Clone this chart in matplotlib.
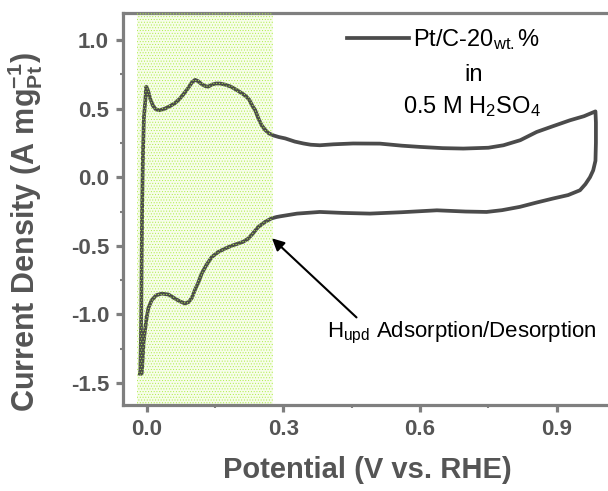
import numpy as np
import matplotlib
matplotlib.use("Agg")
import matplotlib.pyplot as plt
from matplotlib.ticker import MultipleLocator, FuncFormatter

plt.rcParams['font.family'] = ['Liberation Sans', 'DejaVu Sans']
plt.rcParams['mathtext.fontset'] = 'custom'
plt.rcParams['mathtext.rm'] = 'Liberation Sans'
plt.rcParams['mathtext.it'] = 'Liberation Sans'
plt.rcParams['mathtext.bf'] = 'Liberation Sans:bold'
plt.rcParams['hatch.linewidth'] = 0.4

# CV loop: anodic sweep from the H2 evolution edge up to ~1 V
anodic_E = [-0.014, -0.013, -0.012, -0.011, -0.010, -0.008, -0.006, -0.003,
            -0.001, 0.003, 0.008, 0.014, 0.020, 0.028, 0.040, 0.052, 0.062,
            0.072, 0.082, 0.091, 0.099, 0.106, 0.113, 0.120, 0.128, 0.135,
            0.143, 0.152, 0.161, 0.172, 0.185, 0.198, 0.210, 0.218, 0.225,
            0.232, 0.238, 0.245, 0.252, 0.260, 0.268, 0.278, 0.290, 0.304,
            0.325, 0.344, 0.360, 0.380, 0.410, 0.453, 0.512, 0.560, 0.600,
            0.650, 0.695, 0.750, 0.783, 0.820, 0.856, 0.890, 0.929, 0.960,
            0.985]
anodic_j = [-1.43, -1.25, -1.00, -0.60, -0.20, 0.20, 0.44, 0.56,
            0.66, 0.63, 0.57, 0.52, 0.495, 0.488, 0.50, 0.52, 0.54,
            0.57, 0.61, 0.65, 0.69, 0.71, 0.70, 0.68, 0.665, 0.66,
            0.675, 0.683, 0.683, 0.675, 0.66, 0.635, 0.61, 0.59, 0.565,
            0.52, 0.49, 0.43, 0.38, 0.345, 0.32, 0.305, 0.293, 0.283,
            0.26, 0.246, 0.237, 0.233, 0.24, 0.246, 0.245, 0.23, 0.221,
            0.212, 0.209, 0.215, 0.233, 0.27, 0.33, 0.37, 0.415, 0.445,
            0.48]

# cathodic return sweep
cathodic_E = [0.986, 0.986, 0.985, 0.980, 0.973, 0.963, 0.951, 0.925, 0.892,
              0.855, 0.819, 0.780, 0.746, 0.700, 0.637, 0.560, 0.490, 0.430,
              0.380, 0.330, 0.293, 0.285, 0.274, 0.260, 0.245, 0.233, 0.223,
              0.212, 0.201, 0.186, 0.172, 0.157, 0.143, 0.131, 0.121, 0.113,
              0.106, 0.099, 0.092, 0.084, 0.073, 0.062, 0.048, 0.033, 0.021,
              0.011, 0.004, 0.000, -0.004, -0.007, -0.009, -0.011, -0.014]
cathodic_j = [0.40, 0.25, 0.12, 0.05, 0.00, -0.05, -0.095, -0.13, -0.155,
              -0.185, -0.216, -0.24, -0.253, -0.25, -0.241, -0.255, -0.265, -0.26,
              -0.253, -0.265, -0.285, -0.29, -0.30, -0.325, -0.362, -0.41, -0.447,
              -0.47, -0.483, -0.50, -0.520, -0.545, -0.581, -0.64, -0.70, -0.77,
              -0.82, -0.88, -0.91, -0.92, -0.905, -0.884, -0.855, -0.848, -0.86,
              -0.896, -0.95, -1.02, -1.12, -1.21, -1.33, -1.43, -1.43]

hupd_range = (-0.022, 0.277)

gray = '#7f7f7f'
label_col = '#555555'

fig = plt.figure(figsize=(6.08, 4.91), dpi=100)
ax = fig.add_axes([123 / 608, 86 / 491, 488.4 / 608, 392 / 491])

# H_upd region: pale fill underneath, dotted pattern laid over the curve
ax.axvspan(*hupd_range, facecolor='#f7fdea', edgecolor='none', zorder=0)
ax.plot(anodic_E + cathodic_E, anodic_j + cathodic_j, color='#4b4b4b', lw=2.7,
        zorder=2, label=r'Pt/C-20$_{\mathrm{wt.}}$%', solid_joinstyle='round')
ax.axvspan(*hupd_range, facecolor='none', edgecolor='#aeee48', hatch='......',
           lw=0, zorder=3)

ax.set_xlim(-0.052, 1.02)
ax.set_ylim(-1.66, 1.197)
ax.xaxis.set_major_locator(MultipleLocator(0.3))
ax.xaxis.set_minor_locator(MultipleLocator(0.15))
ax.yaxis.set_major_locator(MultipleLocator(0.5))
ax.yaxis.set_minor_locator(MultipleLocator(0.25))
ax.xaxis.set_major_formatter(FuncFormatter(lambda v, p: f'{v:.1f}'))
ax.yaxis.set_major_formatter(FuncFormatter(lambda v, p: f'{v:.1f}'))

for side in ['left', 'bottom', 'top', 'right']:
    ax.spines[side].set_color(gray)
    ax.spines[side].set_linewidth(2.3)

ax.tick_params(which='major', direction='out', length=5, width=2.3, color=gray,
               labelsize=16, labelcolor=label_col, pad=5)
ax.tick_params(which='minor', direction='out', length=2.5, width=1.5, color=gray)
for t in ax.get_xticklabels() + ax.get_yticklabels():
    t.set_fontweight('bold')

ax.set_xlabel('Potential (V vs. RHE)', fontsize=21, fontweight='bold', color=label_col)
ax.set_ylabel(r'Current Density (A mg$^{\mathbf{-1}}_{\mathbf{Pt}}$)', fontsize=22,
              fontweight='bold', color=label_col)
ax.xaxis.set_label_coords(0.5, -0.13)
ax.yaxis.set_label_coords(-0.16, 0.44)

ax.legend(loc='upper left', bbox_to_anchor=(0.43, 1.0), frameon=False,
          fontsize=17, handlelength=2.6, handletextpad=0.2, borderaxespad=0.2)
ax.text(0.717, 0.842, 'in', transform=ax.transAxes, fontsize=17,
        ha='center', va='center')
ax.text(0.715, 0.762, r'0.5 M H$_2$SO$_4$', transform=ax.transAxes, fontsize=17,
        ha='center', va='center')

ax.annotate(r'H$_{\mathrm{upd}}$ Adsorption/Desorption', xy=(0.275, -0.445),
            xytext=(0.396, -1.137), fontsize=16, va='center', ha='left',
            arrowprops=dict(arrowstyle='-|>', color='black', lw=1.5,
                            mutation_scale=18, shrinkA=0, shrinkB=0,
                            relpos=(0.12, 1.0)))

fig.savefig('out.png', dpi=100)
